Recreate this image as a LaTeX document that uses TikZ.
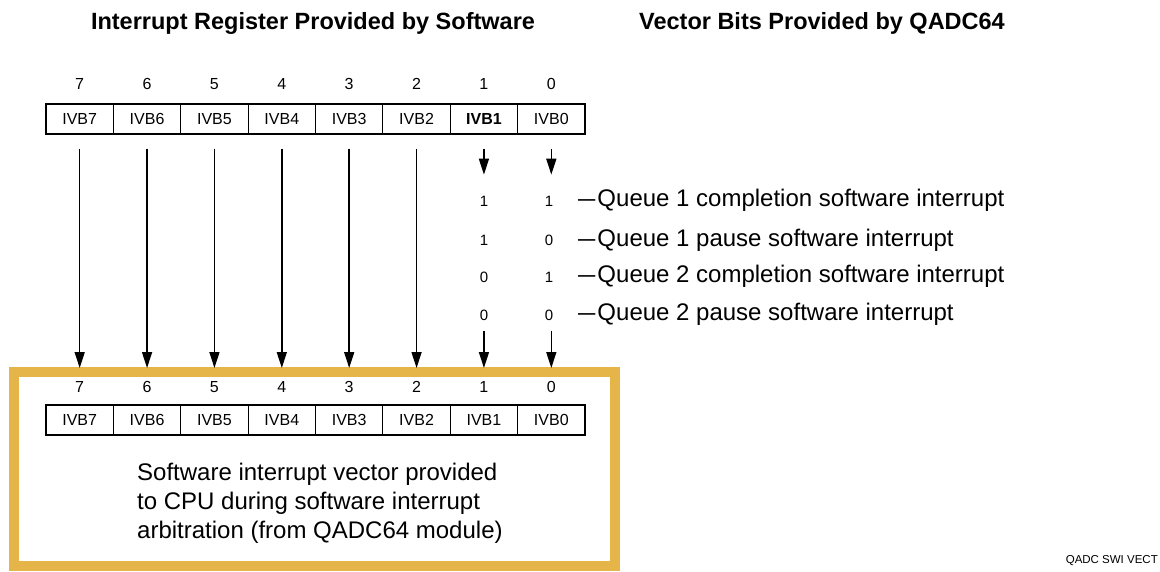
\documentclass[tikz,border=0pt]{standalone}
\usepackage{fontspec}
\setmainfont{Liberation Sans}
\usetikzlibrary{arrows.meta}
\definecolor{framegold}{RGB}{230,181,74}
\newcommand{\qdash}{\scalebox{0.72}[1]{—}\kern2pt}
\tikzset{
  cell/.style={draw, line width=1.1pt, minimum width=67.375pt, minimum height=30pt, inner sep=0pt, font=\fontsize{16}{16}\selectfont},
  bitnum/.style={inner sep=0pt, font=\fontsize{16}{16}\selectfont},
  val/.style={inner sep=0pt, font=\fontsize{15}{15}\selectfont},
  qtext/.style={anchor=west, inner sep=0pt, font=\fontsize{24}{24}\selectfont},
  title/.style={inner sep=0pt, font=\fontsize{23.5}{23.5}\selectfont\bfseries},
  arr/.style={line width=1.5pt, -{Triangle[width=10pt,length=16pt]}},
}
\begin{document}
\begin{tikzpicture}[x=1pt,y=-1pt]
\useasboundingbox (0,0) rectangle (1160,571);
% titles
\node[title] (t1title) at (313,23) {Interrupt Register Provided by Software};
\node[title] (t2title) at (822,23) {Vector Bits Provided by QADC64};
% frame
\draw[framegold, line width=10pt] (14,372) rectangle (615,566);
% registers
\foreach \b in {7,...,0}{
  \pgfmathsetmacro{\cx}{46+(7-\b+0.5)*67.375}
  \node[bitnum] (tn\b) at (\cx,84) {\b};
  \node[bitnum] (bn\b) at (\cx,387) {\b};
  \node[cell] (b\b) at (\cx,420) {IVB\b};
  \coordinate (e\b) at (\cx,368);
}
\foreach \b in {7,6,5,4,3,2,0}{
  \pgfmathsetmacro{\cx}{46+(7-\b+0.5)*67.375}
  \node[cell] (t\b) at (\cx,119) {IVB\b};
}
\pgfmathsetmacro{\cxa}{46+6.5*67.375}
\node[cell, font=\fontsize{16}{16}\selectfont\bfseries] (t1) at (\cxa,119) {IVB1};
% long arrows
\foreach \b in {7,6,5,4,3,2}{
  \draw[arr, shorten <=14pt] (t\b.south) -- (e\b);
}
% values
\node[val] (v11) at (484,201) {1};
\node[val] (v12) at (484,240) {1};
\node[val] (v13) at (484,277) {0};
\node[val] (v14) at (484,315) {0};
\node[val] (v01) at (549,201) {1};
\node[val] (v02) at (549,240) {0};
\node[val] (v03) at (549,277) {1};
\node[val] (v04) at (549,315) {0};
\node[qtext] (q1) at (578,200) {\qdash Queue 1 completion software interrupt};
\node[qtext] (q2) at (578,240) {\qdash Queue 1 pause software interrupt};
\node[qtext] (q3) at (578,276) {\qdash Queue 2 completion software interrupt};
\node[qtext] (q4) at (578,314) {\qdash Queue 2 pause software interrupt};
% short arrows
\draw[arr, shorten <=14pt, shorten >=21pt] (t1.south) -- (t1.south |- v11.north);
\draw[arr, shorten <=14pt, shorten >=21pt] (t0.south) -- (t0.south |- v01.north);
\draw[arr, shorten <=10pt] (t1.south |- v14.south) -- (e1);
\draw[arr, shorten <=10pt] (t0.south |- v04.south) -- (e0);
% description
\node[anchor=north west, align=left, inner sep=0pt, font=\fontsize{24}{29}\selectfont] (desc) at (137,463) {Software interrupt vector provided\\to CPU during software interrupt\\arbitration (from QADC64 module)};
\node[anchor=east, inner sep=0pt, font=\fontsize{11.5}{11.5}\selectfont] (tag) at (1158,561) {QADC SWI VECT};
\end{tikzpicture}
\end{document}
